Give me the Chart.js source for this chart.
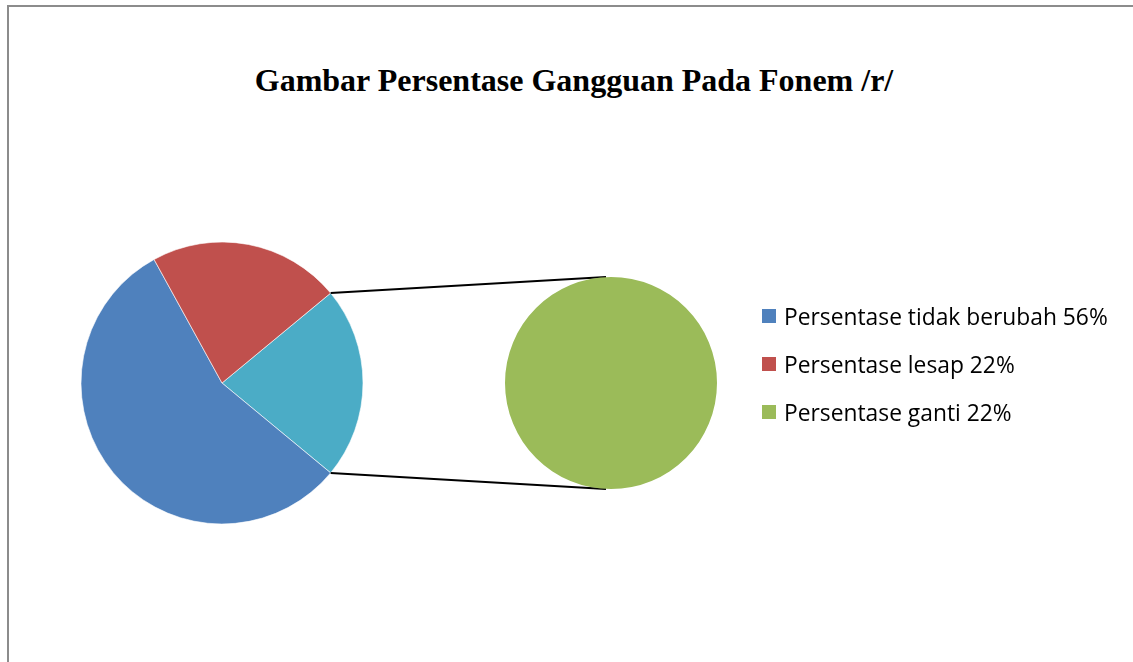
<!DOCTYPE html>
<html>
<head>
<meta charset="utf-8">
<script src="https://cdn.jsdelivr.net/npm/chart.js@4.4.0/dist/chart.umd.min.js"></script>
<style>
    html, body { margin: 0; padding: 0; background: #fff; overflow: hidden; }
    body { width: 1133px; height: 662px; position: relative; }
    #frame {
        position: absolute; left: 7px; top: 5px; width: 1126px; height: 657px;
        border-left: 2px solid #8c8c8c; border-top: 2px solid #8c8c8c; box-sizing: border-box;
    }
    #title {
        position: absolute; left: 8px; width: 1132px; top: 60px;
        text-align: center; font-family: "Liberation Serif", "Times New Roman", serif;
        font-weight: bold; font-size: 32px; color: #000; line-height: 40px;
    }
    #mainPie { position: absolute; left: 0; top: 0; }
    #subPie { position: absolute; left: 504px; top: 276px; }
    #legend { position: absolute; left: 762px; top: 300px; font-family: "Open Sans", Lato, sans-serif; }
    .item { position: relative; height: 48px; }
    .box { position: absolute; left: 0; top: 9px; width: 14px; height: 14px; }
    .label { position: absolute; left: 22px; top: 0; font-size: 22.8px; line-height: 34px; color: #000; white-space: nowrap; }
</style>
</head>
<body>
<div id="frame"></div>
<div id="title">Gambar Persentase Gangguan Pada Fonem /r/</div>
<canvas id="mainPie" width="1133" height="662"></canvas>
<canvas id="subPie" width="214" height="214"></canvas>
<div id="legend"></div>

<script>
// Data
const categories = ['Persentase tidak berubah 56%', 'Persentase lesap 22%', 'Persentase ganti 22%'];
const values = [56, 22, 22];
const colors = ['#4F81BD', '#C0504D', '#9BBB59'];
const otherColor = '#4BACC6'; // "other" slice in main pie

// main pie: other slice first so it can be centered on the right side
const mainLabels = ['Lainnya', categories[0], categories[1]];
const mainValues = [values[2], values[0], values[1]];
const mainColors = [otherColor, colors[0], colors[1]];
const total = values.reduce((a, b) => a + b, 0);
const mainRotation = 90 - (values[2] / total) * 180;

let subPieChart = null;
let mainPieChart = null;

function buildLegend() {
    const legend = document.getElementById('legend');
    categories.forEach((cat, i) => {
        const item = document.createElement('div');
        item.className = 'item';
        item.innerHTML = `<div class="box" style="background:${colors[i]}"></div><div class="label">${cat}</div>`;
        legend.appendChild(item);
    });
}

// connector lines from main pie "other" slice to the sub pie
const connectorPlugin = {
    id: 'connector',
    afterDatasetsDraw(chart) {
        if (!subPieChart) return;
        const arc = chart.getDatasetMeta(0).data[0];
        const subArc = subPieChart.getDatasetMeta(0).data[0];
        const subCanvas = document.getElementById('subPie');
        const sx = subCanvas.offsetLeft + subArc.x;
        const sy = subCanvas.offsetTop + subArc.y;
        const sr = subArc.outerRadius;
        const r = arc.outerRadius;
        const p1 = { x: arc.x + r * Math.cos(arc.startAngle), y: arc.y + r * Math.sin(arc.startAngle) };
        const p2 = { x: arc.x + r * Math.cos(arc.endAngle), y: arc.y + r * Math.sin(arc.endAngle) };
        const ctx = chart.ctx;
        ctx.save();
        ctx.strokeStyle = '#000';
        ctx.lineWidth = 2;
        ctx.beginPath();
        ctx.moveTo(p1.x, p1.y);
        ctx.lineTo(sx - 5, sy - sr);
        ctx.moveTo(p2.x, p2.y);
        ctx.lineTo(sx - 5, sy + sr);
        ctx.stroke();
        ctx.restore();
    }
};

function initializeSubPie() {
    subPieChart = new Chart(document.getElementById('subPie'), {
        type: 'pie',
        data: {
            labels: [categories[2]],
            datasets: [{
                data: [values[2]],
                backgroundColor: [colors[2]],
                borderWidth: 0,
                radius: 106
            }]
        },
        options: {
            responsive: false,
            animation: false,
            layout: { padding: 0 },
            plugins: { legend: { display: false }, tooltip: { enabled: false } }
        }
    });
}

function initializeMainPie() {
    mainPieChart = new Chart(document.getElementById('mainPie'), {
        type: 'pie',
        data: {
            labels: mainLabels,
            datasets: [{
                data: mainValues,
                backgroundColor: mainColors,
                borderColor: '#ffffff',
                borderWidth: 0.6,
                radius: 141
            }]
        },
        options: {
            responsive: false,
            animation: false,
            rotation: mainRotation,
            layout: { padding: { left: 80, top: 241, right: 769, bottom: 137 } },
            plugins: { legend: { display: false }, tooltip: { enabled: false } }
        },
        plugins: [connectorPlugin]
    });
}

buildLegend();
initializeSubPie();
initializeMainPie();
</script>
</body>
</html>
